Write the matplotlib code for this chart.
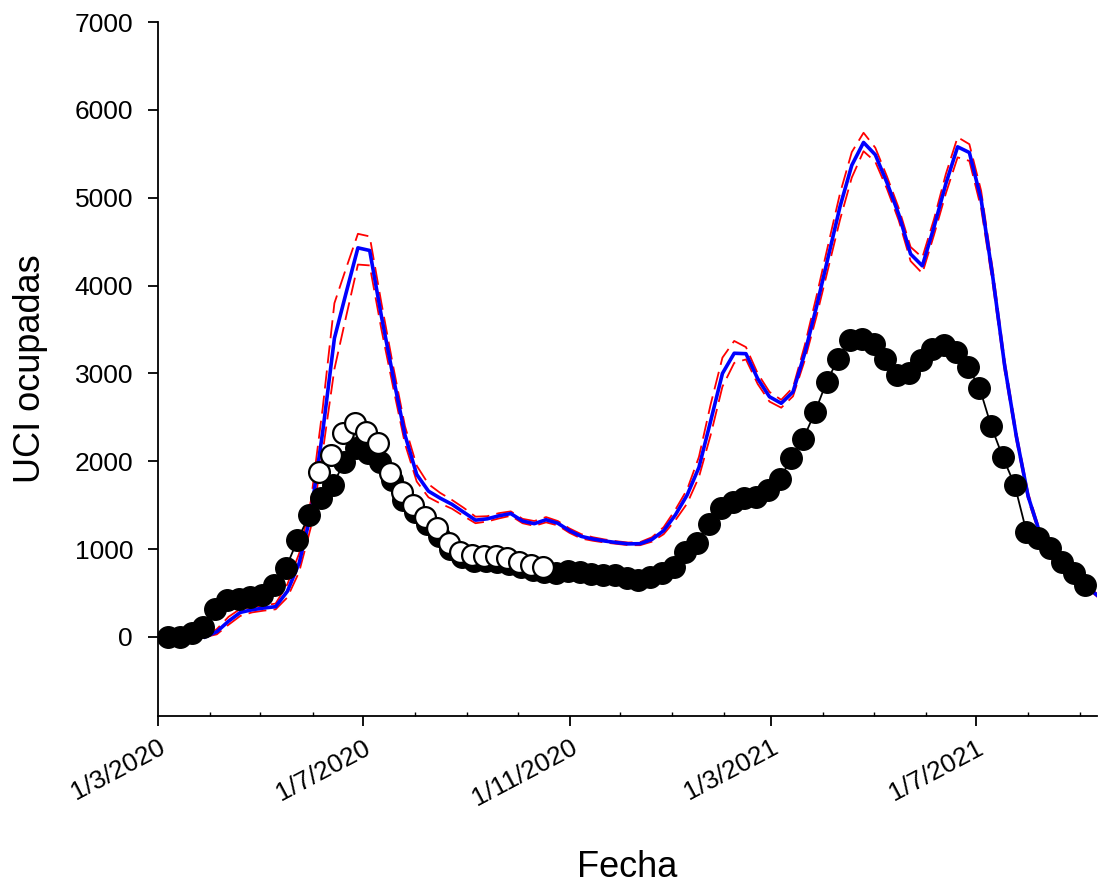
import numpy as np
import pandas as pd
import matplotlib
matplotlib.use("Agg")
import matplotlib.pyplot as plt
import matplotlib.dates as mdates
import matplotlib.transforms as mtransforms

plt.rcParams['font.family'] = ['Liberation Sans', 'DejaVu Sans']

# Observed weekly ICU occupancy (black dots)
obs_dates = pd.date_range("2020-03-07", periods=79, freq="7D")
obs_values = [0, 0, 42, 117, 315, 421, 429, 452, 478, 592,
              781, 1100, 1388, 1578, 1729, 1995, 2147, 2090, 1995, 1786,
              1560, 1420, 1290, 1150, 1000, 910, 870, 860, 850, 830,
              800, 760, 740, 725, 755, 743, 717, 705, 705, 668,
              648, 686, 725, 800, 970, 1073, 1286, 1464, 1540, 1578,
              1596, 1672, 1794, 2033, 2249, 2556, 2904, 3170, 3379, 3398,
              3341, 3170, 2981, 3000, 3151, 3273, 3322, 3246, 3075, 2840,
              2400, 2044, 1729, 1198, 1123, 1009, 857, 725, 592]

# Alternative series (white circles), Jun-Oct 2020
alt_dates = pd.date_range("2020-06-05", periods=20, freq="7D")
alt_values = [1880, 2070, 2317, 2438, 2336, 2203, 1862, 1653, 1502, 1369,
              1237, 1066, 970, 933, 921, 921, 902, 857, 819, 800]

# Model estimate (blue) and bounds (red dashed)
model_dates = pd.date_range("2020-03-29", periods=77, freq="7D")
model_mid = [0, 60, 180, 280, 310, 330, 345, 520, 840, 1400,
             2330, 3400, 3920, 4430, 4400, 3650, 2960, 2300, 1850, 1660,
             1580, 1510, 1420, 1330, 1345, 1380, 1405, 1320, 1290, 1335,
             1295, 1210, 1145, 1115, 1092, 1075, 1060, 1062, 1110, 1210,
             1390, 1617, 1930, 2460, 3000, 3230, 3225, 2940, 2735, 2660,
             2790, 3230, 3760, 4330, 4900, 5370, 5630, 5490, 5170, 4810,
             4360, 4225, 4670, 5160, 5580, 5515, 4980, 4090, 3090, 2280,
             1600, 1180, 910, 770, 640, 572, 460]
model_upper = [10, 90, 230, 320, 340, 360, 380, 600, 950, 1550,
               2600, 3800, 4200, 4590, 4560, 3800, 3080, 2400, 1950, 1740,
               1640, 1560, 1470, 1370, 1375, 1410, 1430, 1345, 1320, 1365,
               1320, 1235, 1170, 1135, 1110, 1090, 1075, 1080, 1135, 1250,
               1450, 1680, 2050, 2650, 3180, 3370, 3300, 3000, 2790, 2700,
               2840, 3320, 3880, 4470, 5050, 5520, 5740, 5570, 5240, 4880,
               4440, 4320, 4760, 5270, 5690, 5610, 5080, 4170, 3150, 2330,
               1640, 1210, 935, 790, 660, 590, 475]
model_lower = [0, 30, 140, 240, 280, 300, 315, 450, 740, 1250,
               2100, 3050, 3650, 4240, 4230, 3500, 2840, 2200, 1770, 1590,
               1520, 1460, 1375, 1295, 1315, 1350, 1380, 1295, 1265, 1305,
               1270, 1185, 1120, 1095, 1075, 1060, 1045, 1045, 1085, 1170,
               1330, 1520, 1820, 2300, 2850, 3120, 3160, 2880, 2680, 2610,
               2740, 3150, 3650, 4200, 4750, 5230, 5530, 5410, 5100, 4740,
               4280, 4140, 4580, 5050, 5460, 5420, 4880, 4010, 3030, 2230,
               1560, 1150, 885, 750, 620, 555, 445]

tick_dates = pd.to_datetime(["2020-03-01", "2020-07-01", "2020-11-01",
                             "2021-03-01", "2021-07-01"])
tick_labels = ["1/3/2020", "1/7/2020", "1/11/2020", "1/3/2021", "1/7/2021"]
y_ticks = [0, 1000, 2000, 3000, 4000, 5000, 6000, 7000]

fig = plt.figure(figsize=(11.16, 8.84), dpi=100)
ax = fig.add_axes([0.1416, 0.190, 0.983 - 0.1416, 0.975 - 0.190])

ax.plot(model_dates, model_upper, color='red', lw=1.3, dashes=(10, 4), zorder=2)
ax.plot(model_dates, model_lower, color='red', lw=1.3, dashes=(10, 4), zorder=2)
ax.plot(model_dates, model_mid, color='blue', lw=2.6, zorder=3)
ax.plot(obs_dates, obs_values, color='black', lw=1.3, marker='o',
        markersize=15.5, markerfacecolor='black', markeredgecolor='black', zorder=4)
ax.plot(alt_dates, alt_values, linestyle='none', marker='o', markersize=15,
        markerfacecolor='white', markeredgecolor='black', markeredgewidth=1.6, zorder=5)

ax.set_xlim(pd.Timestamp("2020-03-01"), pd.Timestamp("2021-09-11"))
ax.set_ylim(-900, 7000)
ax.set_yticks(y_ticks)
ax.set_xticks(tick_dates)
ax.set_xticklabels(tick_labels, rotation=28, ha='right', va='top',
                   rotation_mode='anchor')
ax.xaxis.set_minor_locator(mdates.MonthLocator())

offset = mtransforms.ScaledTranslation(-8 / 100, 0, fig.dpi_scale_trans)
for lab in ax.get_xticklabels():
    lab.set_transform(lab.get_transform() + offset)

for s in ['top', 'right']:
    ax.spines[s].set_visible(False)
for s in ['left', 'bottom']:
    ax.spines[s].set_linewidth(1.3)

ax.tick_params(axis='both', which='major', length=7, width=1.3,
               direction='out', labelsize=19)
ax.tick_params(axis='y', which='major', pad=11)
ax.tick_params(axis='x', which='major', pad=7)
ax.tick_params(axis='x', which='minor', length=3, width=1.0, direction='in')

ax.set_xlabel("Fecha", fontsize=26, labelpad=28)
ax.set_ylabel("UCI ocupadas", fontsize=26, labelpad=19)

fig.savefig("out.png", dpi=100)
